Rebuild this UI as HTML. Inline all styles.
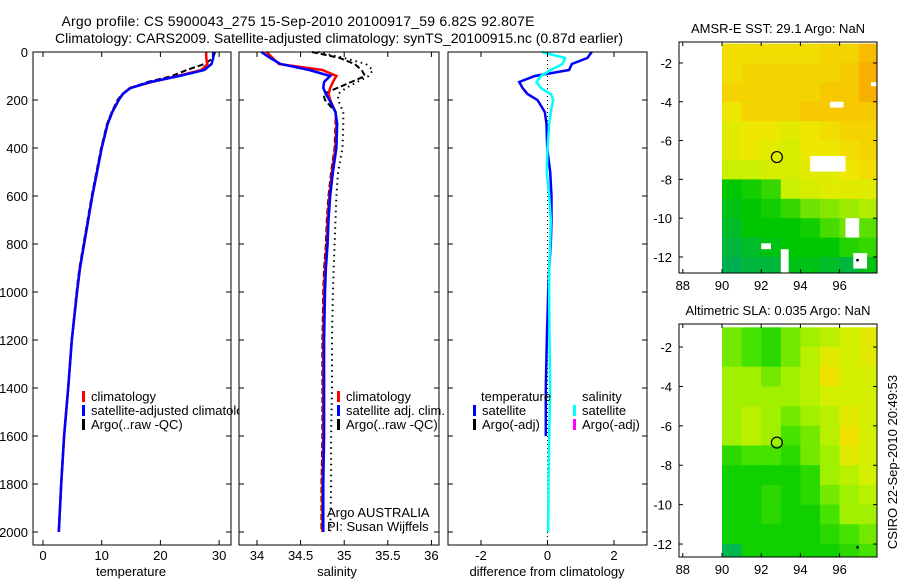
<!DOCTYPE html>
<html><head><meta charset="utf-8"><style>
html,body{margin:0;padding:0;background:#fff;}
svg{display:block;font-family:"Liberation Sans",Arial,sans-serif;}
</style></head><body>
<svg id="fig" width="900" height="580" viewBox="0 0 900 580">
<text x="298" y="26" font-size="14" text-anchor="middle" textLength="473">Argo profile: CS 5900043_275 15-Sep-2010 20100917_59 6.82S 92.807E</text>
<text x="339" y="43" font-size="14" text-anchor="middle" textLength="568">Climatology: CARS2009. Satellite-adjusted climatology: synTS_20100915.nc (0.87d earlier)</text>
<g id="plots"></g>
<text transform="translate(897,462) rotate(-90)" font-size="13" text-anchor="middle">CSIRO 22-Sep-2010 20:49:53</text>
</svg>
<script>
// ---- profile data ----
const depths = [0,25,50,75,100,125,150,175,200,250,300,400,500,600,700,800,900,1000,1200,1400,1600,1800,2000];
const tempClim = [27.8,27.8,28.0,27.0,23.0,18.5,14.8,13.6,12.9,11.8,11.0,10.0,9.2,8.4,7.7,7.0,6.3,5.8,4.9,4.3,3.6,3.1,2.7];
const tempSat  = [29.0,29.0,28.7,27.5,23.2,18.3,14.9,13.6,12.9,11.8,11.0,10.0,9.2,8.4,7.7,7.0,6.3,5.8,4.9,4.3,3.6,3.1,2.7];
const tempArgo = [29.3,29.0,27.5,24.5,22.0,17.8,14.8,13.5,12.7,11.7,10.9,9.9,9.1,8.3,7.6,6.9,6.2,5.7,4.9,4.3,3.6,3.1,2.7];
const salClim = [34.11,34.18,34.25,34.75,34.91,34.87,34.84,34.82,34.84,34.90,34.91,34.90,34.86,34.83,34.81,34.80,34.78,34.77,34.76,34.76,34.76,34.75,34.75];
const salSat  = [34.05,34.15,34.27,34.60,34.84,34.77,34.76,34.79,34.83,34.90,34.92,34.91,34.87,34.84,34.82,34.81,34.79,34.78,34.77,34.77,34.77,34.76,34.76];
const salArgo = [34.63,34.95,35.12,35.20,35.24,35.08,34.92,34.76,34.78,34.90,34.90,34.89,34.85,34.82,34.80,34.79,34.77,34.76,34.75,34.75,34.75,34.74,34.74];
const salArgoRaw = [34.70,35.00,35.25,35.33,35.28,35.15,35.02,34.93,34.93,34.99,34.99,34.98,34.93,34.91,34.90,34.89,34.88,34.87,34.86,34.86,34.85,34.85,34.84];
const diffTempSat = [1.33,1.2,0.73,0.65,-0.38,-0.85,-0.75,-0.6,-0.3,-0.08,-0.03,-0.01,0.08,0.12,0.12,0.1,0.05,0.02,-0.02,-0.05,-0.05,null,null];
const diffSalSat  = [-0.17,0.53,0.45,0.1,-0.2,-0.33,-0.2,0.1,0.17,0.1,0.05,0.0,-0.02,0.05,0.1,0.08,0.05,0.05,0.06,0.08,0.05,0.03,0.02];
const depthTicks = [0,200,400,600,800,1000,1200,1400,1600,1800,2000];
const tempTicks = [0,10,20,30];
const salTicks = [34,34.5,35,35.5,36];
const diffTicks = [-2,0,2];
// ---- map data (1 degree cells, lon 90..98, rows from lat -1 down) ----
const mapLons = [90,91,92,93,94,95,96,97];
const mapLats = [-1,-2,-3,-4,-5,-6,-7,-8,-9,-10,-11,-12];
const sstGrid = [
 [29.2,29.2,29.2,29.2,29.2,29.3,29.3,29.5],
 [29.2,29.3,29.3,29.3,29.3,29.3,29.4,29.6],
 [29.3,29.3,29.3,29.3,29.3,29.4,29.4,29.6],
 [29.1,29.3,29.3,29.3,29.4,29.4,29.4,29.4],
 [29.0,29.1,29.1,29.0,29.1,29.2,29.3,29.3],
 [29.0,29.1,29.0,28.9,29.1,29.1,29.2,29.3],
 [28.8,28.8,28.9,28.9,29.0,29.0,29.1,29.2],
 [27.8,27.9,28.1,28.8,28.9,29.0,29.0,29.0],
 [27.7,27.8,27.9,28.1,28.4,28.5,28.6,28.7],
 [27.6,27.8,27.8,27.8,27.9,28.2,28.4,28.3],
 [27.5,27.6,27.7,27.8,27.8,27.8,28.0,28.1],
 [27.4,27.5,27.5,27.7,27.7,27.6,27.5,27.7]];
const sstMissing = [[94.5,-6.8,96.3,-7.6],[96.3,-10.0,97.0,-11.0],[96.7,-11.8,97.4,-12.6],[93.0,-11.6,93.4,-12.8],[92.0,-11.3,92.5,-11.6],[95.5,-4.0,96.2,-4.3],[97.6,-3.0,98.0,-3.2]];
const sstStops = [27.4,27.8,28.3,28.8,29.1,29.3,29.6];
const sstColors = [[0,176,80],[0,200,0],[90,224,0],[200,240,0],[238,232,0],[244,212,0],[248,176,0]];
const slaGrid = [
 [0.04,0.03,0.02,0.04,0.05,0.06,0.07,0.08],
 [0.04,0.03,0.02,0.04,0.06,0.08,0.07,0.08],
 [0.05,0.05,0.04,0.05,0.06,0.09,0.07,0.07],
 [0.05,0.05,0.05,0.05,0.06,0.07,0.07,0.07],
 [0.05,0.06,0.05,0.04,0.05,0.06,0.08,0.07],
 [0.05,0.06,0.05,0.03,0.04,0.06,0.09,0.07],
 [0.02,0.03,0.03,0.02,0.04,0.05,0.08,0.07],
 [0.01,0.01,0.01,0.01,0.02,0.05,0.06,0.07],
 [0.01,0.01,0.02,0.01,0.02,0.04,0.05,0.06],
 [0.01,0.01,0.02,0.01,0.01,0.03,0.05,0.05],
 [0.01,0.01,0.01,0.01,0.01,0.02,0.03,0.04],
 [0.00,0.01,0.01,0.01,0.01,0.01,0.02,0.03]];
const slaStops = [0.0,0.01,0.03,0.05,0.07,0.09];
const slaColors = [[0,184,80],[16,208,0],[70,226,0],[160,240,0],[210,240,0],[240,226,0]];
const mapXTicks = [88,90,92,94,96];
const mapYTicks = [-2,-4,-6,-8,-10,-12];
const argoPos = [92.8,-6.85];

const NS="http://www.w3.org/2000/svg";
const root=document.getElementById('plots');
function mk(tag,attrs,parent){const e=document.createElementNS(NS,tag);for(const k in attrs)e.setAttribute(k,attrs[k]);(parent||root).appendChild(e);return e;}
function txt(x,y,s,size,anchor,parent,fill){const t=mk('text',{x:x,y:y,'font-size':size,'text-anchor':anchor||'start',fill:fill||'#000'},parent);t.textContent=s;return t;}

const yD = d => 52 + d*0.24;
function profilePanel(name,x0,x1){
  const g=mk('g',{});
  
  
  mk('rect',{x:x0,y:52,width:x1-x0,height:493,fill:'#fff'},g);
  return g;
}
function frame(g,x0,x1,y0,y1,xs,xTicks,yTicksArr,yFn,labelY){
  mk('rect',{x:x0,y:y0,width:x1-x0,height:y1-y0,fill:'none',stroke:'#000','stroke-width':1},g);
  xTicks.forEach(v=>{const x=xs(v);
    mk('line',{x1:x,y1:y1,x2:x,y2:y1-5,stroke:'#000'},g);
    mk('line',{x1:x,y1:y0,x2:x,y2:y0+5,stroke:'#000'},g);
    const t=txt(x,y1+15,String(v),13,'middle',g);
    
    
  });
  yTicksArr.forEach(v=>{const y=yFn(v);
    mk('line',{x1:x0,y1:y,x2:x0+5,y2:y,stroke:'#000'},g);
    mk('line',{x1:x1,y1:y,x2:x1-5,y2:y,stroke:'#000'},g);
    if(labelY){const t=txt(x0-5,y+5,String(v),13,'end',g);
      
      }
  });
}
function line(g,vals,xs,color,w,dash,nm){
  let pts=[];
  vals.forEach((v,i)=>{if(v!==null)pts.push(xs(v).toFixed(1)+','+yD(depths[i]).toFixed(1));});
  const p=mk('polyline',{points:pts.join(' '),fill:'none',stroke:color,'stroke-width':w},g);
  if(dash)p.setAttribute('stroke-dasharray',dash);
  
  
  return p;
}
function legend(g,x,y,color,label,nm){
  mk('rect',{x:x-1,y:y-10,width:3,height:11,fill:color},g);
  const t=txt(x+8,y,label,13,'start',g);
  
  
}

// Panel 1 temperature
const xT = v => 43 + v*5.87;
const p1=profilePanel('temperature-panel',33,231);
line(p1,tempArgo,xT,'#000',2,'6,3','temperature-argo-line');
line(p1,tempClim,xT,'#f00',2.5,null,'temperature-climatology-line');
line(p1,tempSat,xT,'#00f',2.5,null,'temperature-satellite-line');
frame(p1,33,231,52,545,xT,tempTicks,depthTicks,yD,true);
legend(p1,83,401,'#f00','climatology','legend-climatology');
legend(p1,83,415,'#00f','satellite-adjusted climatology','legend-satellite-adjusted');
legend(p1,83,429,'#000','Argo(..raw -QC)','legend-argo');
txt(131,576,'temperature',13,'middle',p1);

// Panel 2 salinity
const xS = v => 257 + (v-34)*87.2;
const p2=profilePanel('salinity-panel',239,439);
line(p2,salArgoRaw,xS,'#000',2,'1.5,4','salinity-argo-raw-line');
line(p2,salArgo,xS,'#000',2,'6,3','salinity-argo-line');
line(p2,salClim,xS,'#f00',2.5,null,'salinity-climatology-line');
line(p2,salSat,xS,'#00f',2.5,null,'salinity-satellite-line');
frame(p2,239,439,52,545,xS,salTicks,depthTicks,yD,false);
legend(p2,338,401,'#f00','climatology','legend-sal-climatology');
legend(p2,338,415,'#00f','satellite adj. clim.','legend-sal-satellite');
legend(p2,338,429,'#000','Argo(..raw -QC)','legend-sal-argo');
txt(327,517,'Argo AUSTRALIA',13,'start',p2);
txt(327,531,'PI: Susan Wijffels',13,'start',p2);
txt(337,576,'salinity',13,'middle',p2);

// Panel 3 differences
const xDf = v => 547.5 + v*33.25;
const p3=profilePanel('difference-panel',448,647);
mk('line',{x1:xDf(0),y1:52,x2:xDf(0),y2:545,stroke:'#000','stroke-dasharray':'1,3'},p3);
line(p3,diffTempSat,xDf,'#00f',2.5,null,'temperature-difference-line');
line(p3,diffSalSat,xDf,'#0ff',2.5,null,'salinity-difference-line');
frame(p3,448,647,52,545,xDf,diffTicks,depthTicks,yD,false);
txt(481,401,'temperature',13,'start',p3);
legend(p3,474,415,'#00f','satellite','legend-temp-satellite');
legend(p3,474,429,'#000','Argo(-adj)','legend-temp-argo');
txt(582,401,'salinity',13,'start',p3);
legend(p3,574,415,'#0ff','satellite','legend-sal-satellite-diff');
legend(p3,574,429,'#f0f','Argo(-adj)','legend-sal-argo-diff');
txt(547,576,'difference from climatology',13,'middle',p3);

// Maps
function colorFor(v,stops,cols){
  let c;
  if(v<=stops[0])c=cols[0];
  else if(v>=stops[stops.length-1])c=cols[cols.length-1];
  else{for(let i=1;i<stops.length;i++){if(v<=stops[i]){const f=(v-stops[i-1])/(stops[i]-stops[i-1]);
    c=cols[i-1].map((a,k)=>Math.round(a+(cols[i][k]-a)*f));break;}}}
  return 'rgb('+c.join(',')+')';
}
function mapPanel(name,title,y0,y1,latTop,latScale,grid,stops,cols,missing){
  const g=mk('g',{});
  
  
  const xs = lon => 722 + (lon-90)*19.6;
  const ys = lat => y0 + (latTop-lat)*latScale;
  const clip='clip-'+name;
  const cp=mk('clipPath',{id:clip},g);
  mk('rect',{x:679,y:y0,width:198,height:y1-y0},cp);
  const cells=mk('g',{'clip-path':'url(#'+clip+')'},g);
  grid.forEach((row,r)=>row.forEach((v,c)=>{
    const x=xs(mapLons[c]), y=ys(mapLats[r]);
    const cell=mk('rect',{x:x.toFixed(1),y:y.toFixed(1),width:19.9,height:(latScale+0.4).toFixed(1),fill:colorFor(v,stops,cols)},cells);
    
    
  }));
  (missing||[]).forEach(m=>{
    mk('rect',{x:xs(m[0]),y:ys(m[1]),width:xs(m[2])-xs(m[0]),height:ys(m[3])-ys(m[1]),fill:'#fff'},cells);
  });
  const circ=mk('circle',{cx:xs(argoPos[0]),cy:ys(argoPos[1]),r:5.5,fill:'none',stroke:'#000','stroke-width':1.2},g);
  
  
  mk('rect',{x:xs(96.85),y:ys(-12.1),width:2.5,height:2.5,fill:'#000'},g);
  mk('rect',{x:679,y:y0,width:198,height:y1-y0,fill:'none',stroke:'#000'},g);
  mapXTicks.forEach(v=>{const x=xs(v);
    mk('line',{x1:x,y1:y1,x2:x,y2:y1-4,stroke:'#000'},g);
    mk('line',{x1:x,y1:y0,x2:x,y2:y0+4,stroke:'#000'},g);
    const t=txt(x,y1+17,String(v),13,'middle',g);
    
    
  });
  mapYTicks.forEach(v=>{const y=ys(v);
    mk('line',{x1:679,y1:y,x2:683,y2:y,stroke:'#000'},g);
    mk('line',{x1:877,y1:y,x2:873,y2:y,stroke:'#000'},g);
    const t=txt(672,y+5,String(v),13,'end',g);
    
    
  });
  const tt=txt(778,y0-9,title,13,'middle',g);
  
  
}
mapPanel('sst-map','AMSR-E SST: 29.1 Argo: NaN',42,273,-0.92,19.4,sstGrid,sstStops,sstColors,sstMissing);
mapPanel('sla-map','Altimetric SLA: 0.035 Argo: NaN',324,557,-0.83,19.7,slaGrid,slaStops,slaColors,[]);
</script>
</body></html>
